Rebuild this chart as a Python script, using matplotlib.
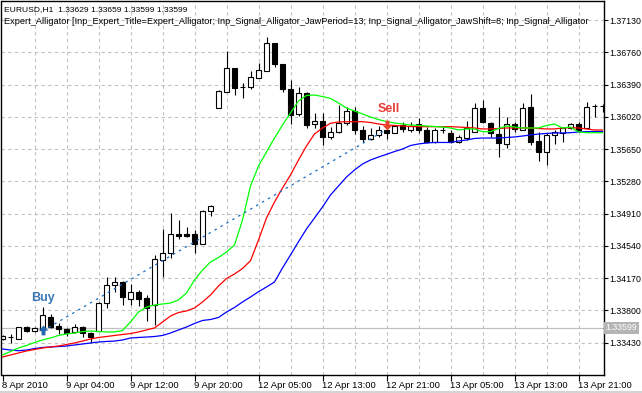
import numpy as np
import matplotlib
matplotlib.use("Agg")
import matplotlib.pyplot as plt
from matplotlib.path import Path
from matplotlib.lines import Line2D
from matplotlib.transforms import offset_copy

plt.rcParams['font.family'] = ['Liberation Sans', 'DejaVu Sans']

# --- EURUSD H1 candles (open, high, low, close) ---
opens = [1.33472, 1.33499, 1.33472, 1.33610, 1.33564, 1.33576, 1.33728, 1.33621, 1.33587, 1.33553,
         1.33610, 1.33545, 1.33568, 1.33885, 1.34092, 1.34126, 1.33935, 1.34015, 1.33943, 1.33862,
         1.34378, 1.34459, 1.34676, 1.34676, 1.34676, 1.34562, 1.34940, 1.36118, 1.36308, 1.36580,
         1.36362, 1.36362, 1.36462, 1.36549, 1.36867, 1.36626, 1.36339, 1.36053, 1.36293, 1.35938,
         1.35972, 1.35789, 1.35846, 1.35953, 1.36087, 1.35869, 1.35766, 1.35812, 1.35869, 1.35835,
         1.35926, 1.35869, 1.35934, 1.35869, 1.35735, 1.35869, 1.35835, 1.35735, 1.35777, 1.35850,
         1.36121, 1.35949, 1.35823, 1.35709, 1.35938, 1.35869, 1.36136, 1.35743, 1.35620, 1.35812,
         1.35838, 1.35892, 1.35938, 1.35892, 1.36144, 1.36144]
highs = [1.33518, 1.33530, 1.33615, 1.33625, 1.33613, 1.33843, 1.33759, 1.33652, 1.33599, 1.33644,
         1.33621, 1.33553, 1.33897, 1.34183, 1.34183, 1.34141, 1.34103, 1.34034, 1.33977, 1.34436,
         1.34734, 1.34921, 1.34837, 1.34757, 1.34722, 1.34952, 1.35005, 1.36328, 1.36778, 1.36585,
         1.36408, 1.36549, 1.36634, 1.36932, 1.36870, 1.36630, 1.36442, 1.36362, 1.36308, 1.36064,
         1.36064, 1.35903, 1.36156, 1.36136, 1.36136, 1.35915, 1.35892, 1.35915, 1.35926, 1.35920,
         1.35964, 1.35964, 1.36003, 1.35907, 1.35895, 1.35907, 1.35869, 1.35812, 1.35972, 1.36182,
         1.36213, 1.35964, 1.36133, 1.36018, 1.35964, 1.36182, 1.36282, 1.35850, 1.35835, 1.35869,
         1.35907, 1.35953, 1.35964, 1.36194, 1.36167, 1.36167]
lows = [1.33461, 1.33427, 1.33468, 1.33556, 1.33556, 1.33556, 1.33595, 1.33530, 1.33507, 1.33538,
        1.33495, 1.33427, 1.33564, 1.33828, 1.34011, 1.33862, 1.33862, 1.33851, 1.33682, 1.33633,
        1.34183, 1.34401, 1.34619, 1.34642, 1.34459, 1.34562, 1.34883, 1.36118, 1.36308, 1.36270,
        1.36236, 1.36339, 1.36462, 1.36549, 1.36591, 1.36308, 1.35938, 1.36030, 1.35892, 1.35892,
        1.35697, 1.35766, 1.35835, 1.35926, 1.35823, 1.35735, 1.35754, 1.35792, 1.35766, 1.35835,
        1.35850, 1.35850, 1.35831, 1.35717, 1.35723, 1.35831, 1.35717, 1.35717, 1.35754, 1.35850,
        1.35949, 1.35792, 1.35559, 1.35663, 1.35850, 1.35869, 1.35697, 1.35517, 1.35468, 1.35709,
        1.35735, 1.35877, 1.35850, 1.35892, 1.36018, 1.36075]
closes = [1.33507, 1.33499, 1.33610, 1.33564, 1.33599, 1.33748, 1.33607, 1.33587, 1.33545, 1.33610,
          1.33541, 1.33495, 1.33885, 1.34092, 1.34126, 1.33954, 1.34015, 1.33935, 1.33828, 1.34390,
          1.34459, 1.34676, 1.34657, 1.34657, 1.34562, 1.34940, 1.34998, 1.36316, 1.36580, 1.36351,
          1.36362, 1.36477, 1.36557, 1.36867, 1.36626, 1.36339, 1.36041, 1.36293, 1.35926, 1.35972,
          1.35789, 1.35850, 1.35953, 1.36087, 1.35869, 1.35766, 1.35812, 1.35869, 1.35835, 1.35918,
          1.35877, 1.35918, 1.35869, 1.35735, 1.35869, 1.35869, 1.35735, 1.35789, 1.35892, 1.36121,
          1.35961, 1.35835, 1.35720, 1.35938, 1.35881, 1.36125, 1.35735, 1.35620, 1.35812, 1.35850,
          1.35892, 1.35938, 1.35869, 1.36136, 1.36144, 1.36144]

# --- Alligator lines (already shifted onto the bar grid) ---
jaw = [1.33358, 1.33346, 1.33338, 1.33346, 1.33363, 1.33375, 1.33381, 1.33386, 1.33392, 1.33404,
       1.33415, 1.33427, 1.33438, 1.33444, 1.33449, 1.33461, 1.33484, 1.33490, 1.33495, 1.33501,
       1.33513, 1.33541, 1.33576, 1.33610, 1.33650, 1.33685, 1.33696, 1.33719, 1.33782, 1.33834,
       1.33897, 1.33954, 1.34015, 1.34069, 1.34126, 1.34287, 1.34436, 1.34588, 1.34734, 1.34860,
       1.34986, 1.35124, 1.35227, 1.35330, 1.35410, 1.35479, 1.35525, 1.35559, 1.35590, 1.35622,
       1.35651, 1.35691, 1.35709, 1.35720, 1.35726, 1.35726, 1.35726, 1.35743, 1.35754, 1.35772,
       1.35777, 1.35777, 1.35777, 1.35783, 1.35789, 1.35800, 1.35812, 1.35823, 1.35829, 1.35835,
       1.35835, 1.35838, 1.35846, 1.35850, 1.35852, 1.35852]
teeth = [1.33266, 1.33289, 1.33312, 1.33335, 1.33352, 1.33369, 1.33381, 1.33392, 1.33409, 1.33427,
         1.33449, 1.33472, 1.33490, 1.33501, 1.33513, 1.33524, 1.33535, 1.33553, 1.33576, 1.33599,
         1.33667, 1.33736, 1.33776, 1.33794, 1.33828, 1.33897, 1.33977, 1.34080, 1.34166, 1.34218,
         1.34281, 1.34370, 1.34608, 1.34860, 1.35043, 1.35204, 1.35353, 1.35525, 1.35686, 1.35823,
         1.35892, 1.35946, 1.35961, 1.35964, 1.35964, 1.35964, 1.35955, 1.35938, 1.35926, 1.35921,
         1.35915, 1.35909, 1.35907, 1.35907, 1.35907, 1.35907, 1.35907, 1.35903, 1.35898, 1.35892,
         1.35881, 1.35881, 1.35886, 1.35892, 1.35892, 1.35892, 1.35892, 1.35886, 1.35881, 1.35881,
         1.35892, 1.35895, 1.35892, 1.35881, 1.35869, 1.35869]
lips = [1.33289, 1.33329, 1.33369, 1.33398, 1.33432, 1.33461, 1.33484, 1.33513, 1.33530, 1.33541,
        1.33558, 1.33564, 1.33558, 1.33553, 1.33553, 1.33570, 1.33667, 1.33782, 1.33839, 1.33862,
        1.33874, 1.33885, 1.33920, 1.34000, 1.34149, 1.34264, 1.34355, 1.34407, 1.34470, 1.34550,
        1.34837, 1.35227, 1.35456, 1.35617, 1.35777, 1.35926, 1.36064, 1.36202, 1.36265, 1.36270,
        1.36253, 1.36230, 1.36179, 1.36121, 1.36087, 1.36053, 1.36018, 1.35989, 1.35966, 1.35949,
        1.35938, 1.35926, 1.35921, 1.35915, 1.35909, 1.35903, 1.35892, 1.35869, 1.35881, 1.35881,
        1.35850, 1.35850, 1.35886, 1.35915, 1.35903, 1.35892, 1.35892, 1.35892, 1.35921, 1.35938,
        1.35892, 1.35903, 1.35846, 1.35838, 1.35838, 1.35838]

# --- trade (buy -> sell) ---
trade_bars = [5, 48]
trade_prices = [1.33564, 1.35875]
current_price = 1.33599

time_labels = ['8 Apr 2010', '9 Apr 04:00', '9 Apr 12:00', '9 Apr 20:00', '12 Apr 05:00',
               '12 Apr 13:00', '12 Apr 21:00', '13 Apr 05:00', '13 Apr 13:00', '13 Apr 21:00']
price_ticks = [1.33430, 1.33800, 1.34170, 1.34540, 1.34910, 1.35280,
               1.35650, 1.36020, 1.36390, 1.36760, 1.37130]

header1 = 'EURUSD,H1  1.33629 1.33659 1.33599 1.33599'
header2 = ('Expert_Alligator [Inp_Expert_Title=Expert_Alligator; Inp_Signal_Alligator_JawPeriod=13; '
           'Inp_Signal_Alligator_JawShift=8; Inp_Signal_Alligator')

W, H = 642, 393
fig = plt.figure(figsize=(W / 100, H / 100), dpi=100)
L, R, T, B = 1.5, 603.5, 1.0, 374.5
ax = fig.add_axes([L / W, (H - B) / H, (R - L) / W, (B - T) / H])

bars = np.arange(len(opens))
o = np.array(opens); c = np.array(closes)
hi = np.array(highs); lo = np.array(lows)

# grid
for xg in np.arange(4, len(opens), 4):
    ax.axvline(xg, color='#c0c0c0', lw=0.8, dashes=(3, 3), zorder=0)
for yg in price_ticks:
    ax.axhline(yg, color='#c0c0c0', lw=0.8, dashes=(3, 3), zorder=0)
ax.axhline(current_price, color='#c0c0c0', lw=0.9, zorder=0.5)

# candles
ax.vlines(bars, lo, hi, color='black', lw=0.8, zorder=2)
up = c > o
down = c < o
doji = c == o
ax.bar(bars[up], (c - o)[up], bottom=o[up], width=0.62, color='white',
       edgecolor='black', lw=0.8, zorder=2.1)
ax.bar(bars[down], (o - c)[down], bottom=c[down], width=0.62, color='black',
       edgecolor='black', lw=0.8, zorder=2.1)
ax.hlines(c[doji], bars[doji] - 0.31, bars[doji] + 0.31, color='black', lw=0.8, zorder=2.1)

# alligator
ax.plot(bars, jaw, color='#0000ff', lw=0.9, zorder=3)
ax.plot(bars, teeth, color='#ff0000', lw=0.9, zorder=3)
ax.plot(bars, lips, color='#00ff00', lw=0.9, zorder=3)

# trade line and arrows
ax.plot(trade_bars, trade_prices, color='#1a6cc0', lw=0.9, dashes=(2, 3.5), zorder=3.5)
arrow_up = Path([(0, 1), (1, 0), (0.4, 0), (0.4, -1), (-0.4, -1), (-0.4, 0), (-1, 0), (0, 1)],
                [Path.MOVETO] + [Path.LINETO] * 6 + [Path.CLOSEPOLY])
arrow_down = Path([(x, -y) for x, y in arrow_up.vertices], arrow_up.codes)
ax.plot(trade_bars[0], trade_prices[0], marker=arrow_up, ms=7, color='#2468b4', mew=0,
        zorder=4, transform=offset_copy(ax.transData, fig=fig, x=0, y=0.5, units='points'))
ax.plot(trade_bars[1], trade_prices[1], marker=arrow_down, ms=7, color='#e8452c', mew=0,
        zorder=4, transform=offset_copy(ax.transData, fig=fig, x=0, y=3, units='points'))
ax.annotate('Buy', (trade_bars[0], trade_prices[0]), xytext=(0.5, 23.5), textcoords='offset points',
            ha='center', va='center', color='#3a78b8', fontsize=9, fontweight='bold', zorder=5)
ax.annotate('Sell', (trade_bars[1], trade_prices[1]), xytext=(1.5, 15), textcoords='offset points',
            ha='center', va='center', color='#e83a35', fontsize=9, fontweight='bold', zorder=5)

# axes
ax.set_xlim((L - 2.5) / 8, (R - 2.5) / 8)
y_at = lambda ypx: 1.3343 + (342.7 - ypx) / 8721.0
ax.set_ylim(y_at(B), y_at(T))
for s in ax.spines.values():
    s.set_color('black')
    s.set_linewidth(1.0)

ax.set_xticks(np.arange(0, len(time_labels) * 8, 8))
ax.set_xticklabels(time_labels, ha='left', fontsize=6.8)
ax.tick_params(axis='x', direction='out', length=4, width=0.8, pad=1)
ax.yaxis.tick_right()
ax.set_yticks(price_ticks)
ax.set_yticklabels(['%.5f' % p for p in price_ticks], fontsize=6.3)
ax.tick_params(axis='y', direction='out', length=3, width=0.8, pad=1.5)

# current price tag
ax.annotate('%.5f' % current_price, (1, current_price), xycoords=('axes fraction', 'data'),
            xytext=(1.6, 0), textcoords='offset points', ha='left', va='center',
            fontsize=6.3, color='white', annotation_clip=False,
            bbox=dict(boxstyle='square,pad=0.15', fc='#b4b4b4', ec='none'))

# header texts
ax.text(2.5 / (R - L), (B - 10) / (B - T), header1, transform=ax.transAxes, fontsize=6.1,
        va='center', ha='left', zorder=6)
ax.text(2.5 / (R - L), (B - 21.5) / (B - T), header2, transform=ax.transAxes, fontsize=6.6,
        va='center', ha='left', zorder=6)

fig.add_artist(Line2D([0, 1], [1.5 / H, 1.5 / H], color='#d4d4d4', lw=1.5))

fig.savefig('out.png', dpi=100)
